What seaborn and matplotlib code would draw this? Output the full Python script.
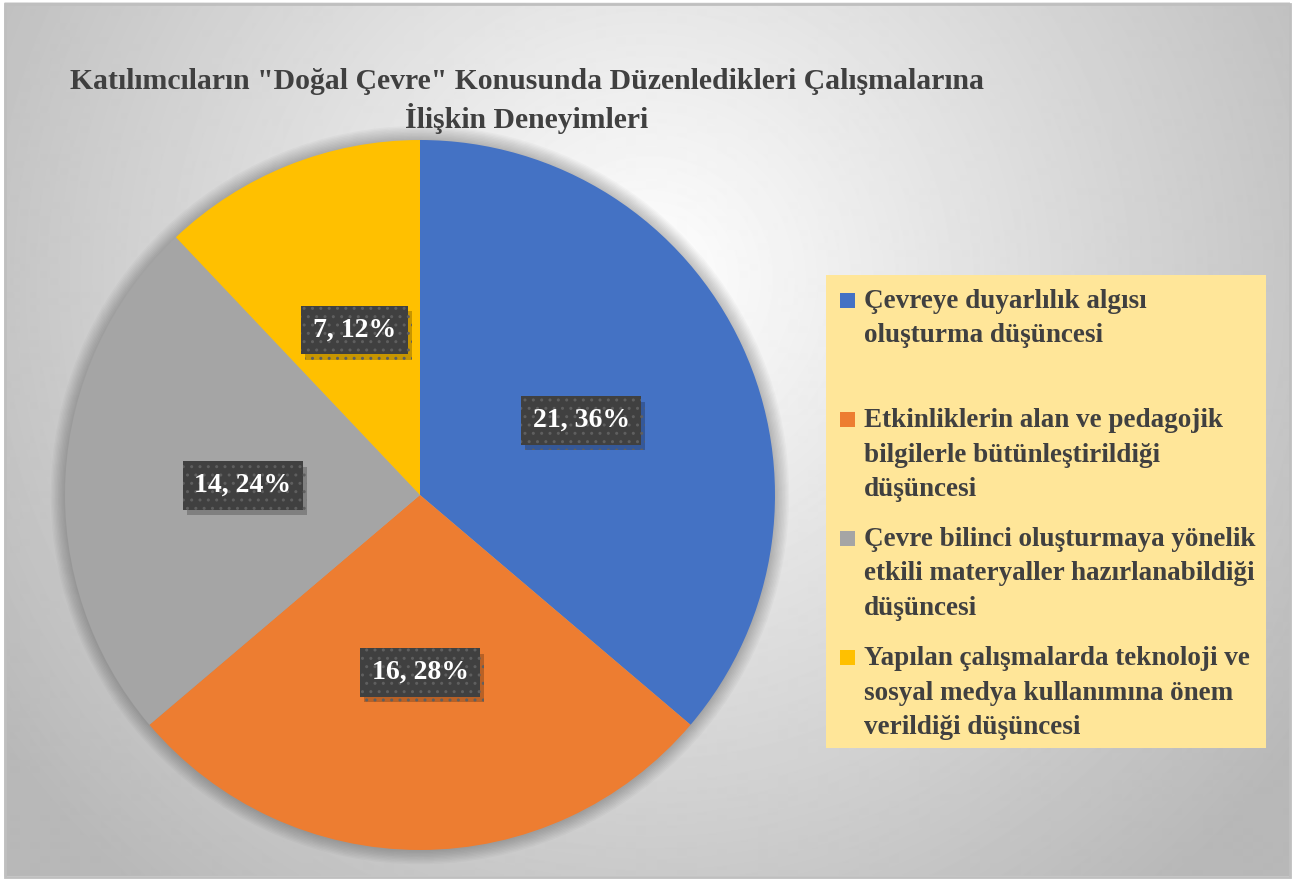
import numpy as np
import seaborn as sns
import matplotlib.pyplot as plt
from matplotlib.patches import Rectangle, Circle
import matplotlib.patheffects as pe

# data
categories = [
    "Çevreye duyarlılık algısı\noluşturma düşüncesi",
    "Etkinliklerin alan ve pedagojik\nbilgilerle bütünleştirildiği\ndüşüncesi",
    "Çevre bilinci oluşturmaya yönelik\netkili materyaller hazırlanabildiği\ndüşüncesi",
    "Yapılan çalışmalarda teknoloji ve\nsosyal medya kullanımına önem\nverildiği düşüncesi",
]
counts = [21, 16, 14, 7]
title = 'Katılımcıların "Doğal Çevre" Konusunda Düzenledikleri Çalışmalarına\nİlişkin Deneyimleri'

colors = ["#4472C4", "#ED7D31", "#A5A5A5", "#FFC000"]

sns.set_style("white")
plt.rcParams['font.family'] = ['Liberation Serif', 'DejaVu Serif']

W, H = 1294, 881
fig = plt.figure(figsize=(W / 100, H / 100), dpi=100)

# background gradient
bg = fig.add_axes([0, 0, 1, 1])
yy, xx = np.mgrid[0:H, 0:W]
d = np.hypot(xx - 650, yy - 280)
img = 1 - 0.28 * np.clip(d / 800, 0, 1)
img[:4, :] = 1
img[-4:, :] = 1
img[:, :5] = 1
img[:, -4:] = 1
bg.imshow(img, cmap='gray', vmin=0, vmax=1, aspect='auto', interpolation='bilinear')
bg.add_patch(Rectangle((5, 4), 1285, 873, fill=False, ec='#bfbfbf', lw=2))
bg.set_xlim(0, W)
bg.set_ylim(H, 0)
bg.axis('off')

# pie
cx, cy, r = 420, 495, 355
ax = fig.add_axes([(cx - r) / W, (H - cy - r) / H, 2 * r / W, 2 * r / H])
for k in range(10):
    ax.add_patch(Circle((0, 0), 1 + 0.004 * (k + 1), color='black', alpha=0.025,
                        lw=0, clip_on=False, zorder=0))
wedges, _ = ax.pie(counts, colors=colors, startangle=90, counterclock=False,
                   radius=1, wedgeprops=dict(lw=0, zorder=2))
ax.set_xlim(-1, 1)
ax.set_ylim(-1, 1)
ax.axis('off')

total = sum(counts)
for w, c in zip(wedges, counts):
    th = np.deg2rad((w.theta1 + w.theta2) / 2)
    lab = f"{c}, {round(100 * c / total)}%"
    t = ax.text(0.5 * np.cos(th), 0.5 * np.sin(th), lab, ha='center', va='center',
                fontsize=20, weight='bold', color='white', zorder=5,
                bbox=dict(boxstyle='square,pad=0.42', fc='#404040', ec='#5f5f5f',
                          lw=0, hatch='..'))
    t.get_bbox_patch().set_path_effects([
        pe.SimplePatchShadow(offset=(3, -4), shadow_rgbFace='black', alpha=0.22),
        pe.Normal()])

# title
fig.text(527 / W, 1 - 101 / H, title, ha='center', va='center', fontsize=21.4,
         weight='bold', color='#404040', linespacing=1.3)

# legend box
bg.add_patch(Rectangle((826, 275), 440, 473, fc='#FFE699', ec='none', zorder=3))
entry_y = [300, 419, 538, 657]
for yc, col, lab in zip(entry_y, colors, categories):
    bg.add_patch(Rectangle((840, yc - 7), 15, 15, fc=col, ec='none', zorder=4))
    bg.text(864, yc - 11, lab, ha='left', va='top', fontsize=19.5, weight='bold',
            color='#404040', linespacing=1.5, zorder=4)

fig.savefig('out.png', dpi=100)
